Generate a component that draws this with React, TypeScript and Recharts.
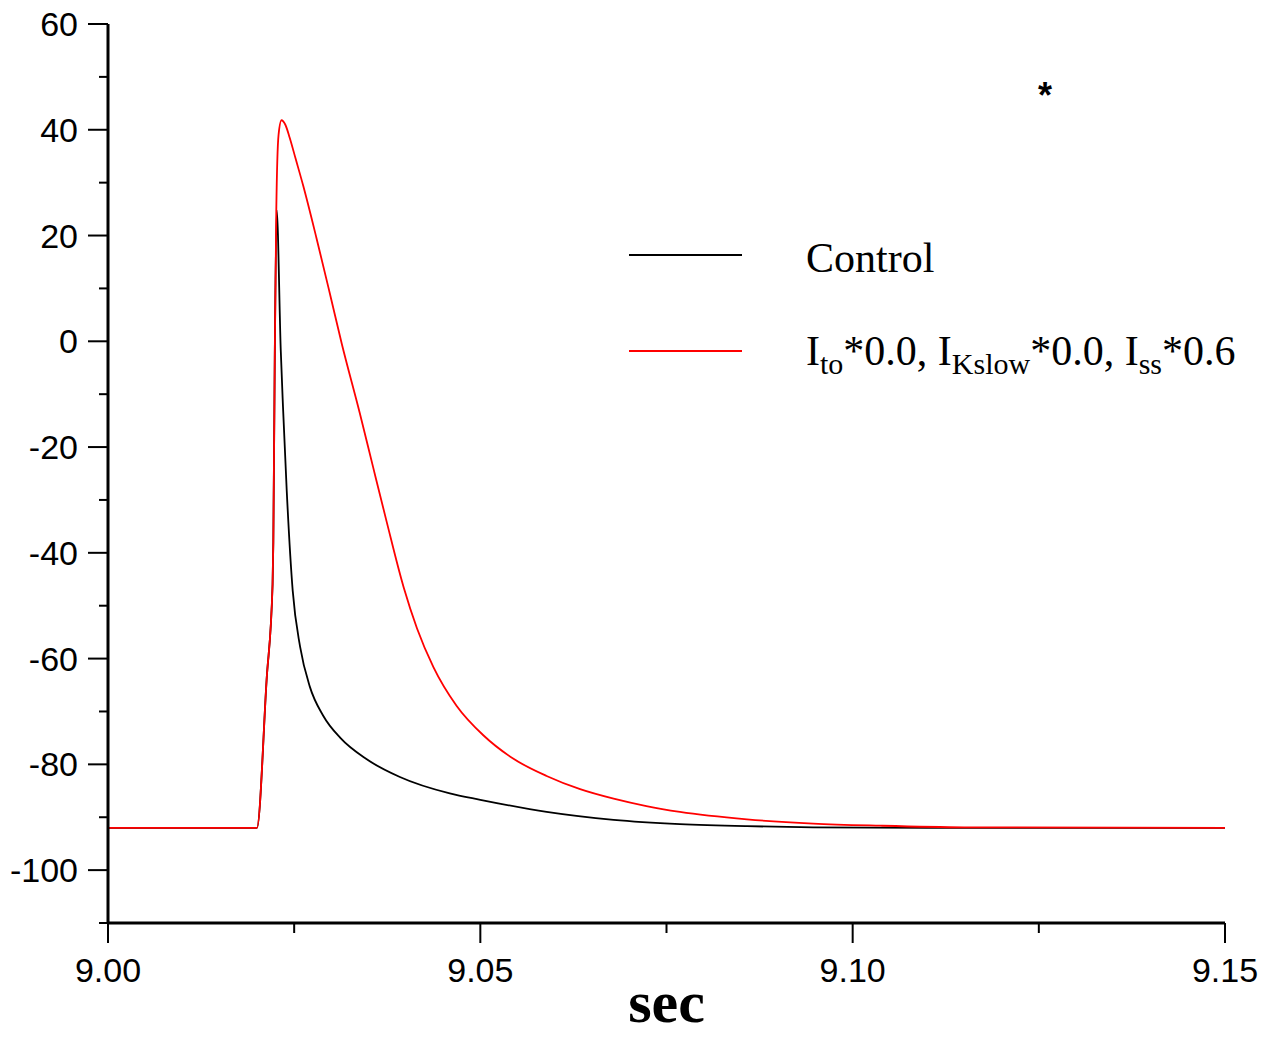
import React from 'react';
import { LineChart, Line, XAxis, YAxis, Legend } from 'recharts';

if (typeof document !== 'undefined') document.body.style.margin = '0';

type Pt = { t: number; v: number };

// Control trace (black)
const controlT = [
  9.0, 9.02, 9.0213, 9.0221, 9.0222, 9.0224, 9.02265, 9.0232, 9.0235, 9.024,
  9.0248, 9.0258, 9.0271, 9.0289, 9.0312, 9.0347, 9.0392, 9.0459, 9.05,
  9.0589, 9.0679, 9.0768, 9.0858, 9.0947, 9.11, 9.15,
];
const controlV = [
  -92, -92, -64, -46, -38, -2, 24.8, -1.7, -12.4, -28.2,
  -47.1, -57.8, -65.3, -70.8, -75.0, -79.0, -82.4, -85.5, -86.7,
  -89.0, -90.5, -91.3, -91.7, -91.9, -92, -92,
];

// Ito*0.0, IKslow*0.0, Iss*0.6 trace (red)
const blockT = [
  9.0, 9.02, 9.0213, 9.0221, 9.0222, 9.0224, 9.0226, 9.0229, 9.0233, 9.0238,
  9.0244, 9.0252, 9.0262, 9.028, 9.0298, 9.0314, 9.0338, 9.0356, 9.0374, 9.0397,
  9.0415, 9.0437, 9.0468, 9.0504, 9.0544, 9.0589, 9.0634, 9.0679, 9.0723, 9.0768,
  9.0858, 9.0947, 9.1037, 9.115, 9.15,
];
const blockV = [
  -92, -92, -64, -46, -38, -2, 24.8, 39, 41.8, 41.0,
  38.5, 34.5, 29.5, 19.5, 9.0, -0.5, -13.5, -23.8, -34.0, -46.5,
  -54.3, -61.6, -68.9, -74.5, -78.9, -82.2, -84.7, -86.5, -87.9, -89.0,
  -90.4, -91.2, -91.6, -91.9, -92,
];

const xTicks = [9.0, 9.025, 9.05, 9.075, 9.1, 9.125, 9.15];
const yTicks = [-110, -100, -90, -80, -70, -60, -50, -40, -30, -20, -10, 0, 10, 20, 30, 40, 50, 60];

const controlData: Pt[] = controlT.map((t, i) => ({ t, v: controlV[i] }));
const blockData: Pt[] = blockT.map((t, i) => ({ t, v: blockV[i] }));

const AX_X = 108;
const AX_Y = 923;

const XTick = (props: any) => {
  const { x, payload } = props;
  const v = payload.value as number;
  const major = Math.round(v * 1000) % 50 === 0;
  return (
    <g>
      <line x1={x} x2={x} y1={AX_Y} y2={AX_Y + (major ? 20 : 10)} stroke="#000" strokeWidth={2} />
      {major && (
        <text x={x} y={982} textAnchor="middle" fontFamily="Liberation Sans, Arial" fontSize={34} fill="#000">
          {v.toFixed(2)}
        </text>
      )}
    </g>
  );
};

const YTick = (props: any) => {
  const { y, payload } = props;
  const v = payload.value as number;
  const major = v % 20 === 0;
  return (
    <g>
      <line x1={AX_X - (major ? 20 : 9)} x2={AX_X} y1={y} y2={y} stroke="#000" strokeWidth={2} />
      {major && (
        <text x={78} y={y + 12} textAnchor="end" fontFamily="Liberation Sans, Arial" fontSize={34} fill="#000">
          {v}
        </text>
      )}
    </g>
  );
};

const serif = 'Liberation Serif, Times New Roman, serif';

const renderLegend = () => (
  <svg width={1274} height={1037} style={{ position: 'absolute', left: 0, top: 0 }}>
    <line x1={629} x2={742} y1={255} y2={255} stroke="#000" strokeWidth={2} />
    <text x={806} y={272} fontFamily={serif} fontSize={42} fill="#000">Control</text>
    <line x1={629} x2={742} y1={351} y2={351} stroke="#ff0000" strokeWidth={2} />
    <text x={806} y={365} fontFamily={serif} fontSize={42} fill="#000">
      I<tspan fontSize={30} dy={9}>to</tspan>
      <tspan dy={-9}>*0.0, I</tspan>
      <tspan fontSize={30} dy={9}>Kslow</tspan>
      <tspan dy={-9}>*0.0, I</tspan>
      <tspan fontSize={30} dy={9}>ss</tspan>
      <tspan dy={-9}>*0.6</tspan>
    </text>
    <text x={1045} y={108} textAnchor="middle" fontFamily="Liberation Sans, Arial" fontWeight="bold" fontSize={36} fill="#000">*</text>
  </svg>
);

export default function App() {
  return (
    <div style={{ width: 1274, height: 1037, background: '#fff' }}>
      <LineChart width={1274} height={1037} margin={{ top: 24, right: 49, left: 8, bottom: 7 }}>
        <XAxis
          dataKey="t"
          type="number"
          domain={[9.0, 9.15]}
          ticks={xTicks}
          allowDataOverflow
          height={107}
          axisLine={{ stroke: '#000', strokeWidth: 3 }}
          tickLine={false}
          tick={<XTick />}
          interval={0}
          label={{
            value: 'sec',
            position: 'insideBottom',
            offset: 8,
            style: { fontFamily: serif, fontWeight: 'bold', fontSize: 60, fill: '#000' },
          }}
        />
        <YAxis
          type="number"
          domain={[-110, 60]}
          ticks={yTicks}
          allowDataOverflow
          width={100}
          axisLine={{ stroke: '#000', strokeWidth: 3 }}
          tickLine={false}
          tick={<YTick />}
          interval={0}
        />
        <Legend
          layout="vertical"
          align="center"
          verticalAlign="middle"
          content={renderLegend}
          wrapperStyle={{ top: 0, left: 0, width: 1274, height: 1037, pointerEvents: 'none' }}
        />
        <Line
          data={controlData}
          dataKey="v"
          name="Control"
          type="monotone"
          stroke="#000"
          strokeWidth={1.8}
          dot={false}
          isAnimationActive={false}
        />
        <Line
          data={blockData}
          dataKey="v"
          name="Ito*0.0, IKslow*0.0, Iss*0.6"
          type="monotone"
          stroke="#ff0000"
          strokeWidth={1.8}
          dot={false}
          isAnimationActive={false}
        />
      </LineChart>
    </div>
  );
}
